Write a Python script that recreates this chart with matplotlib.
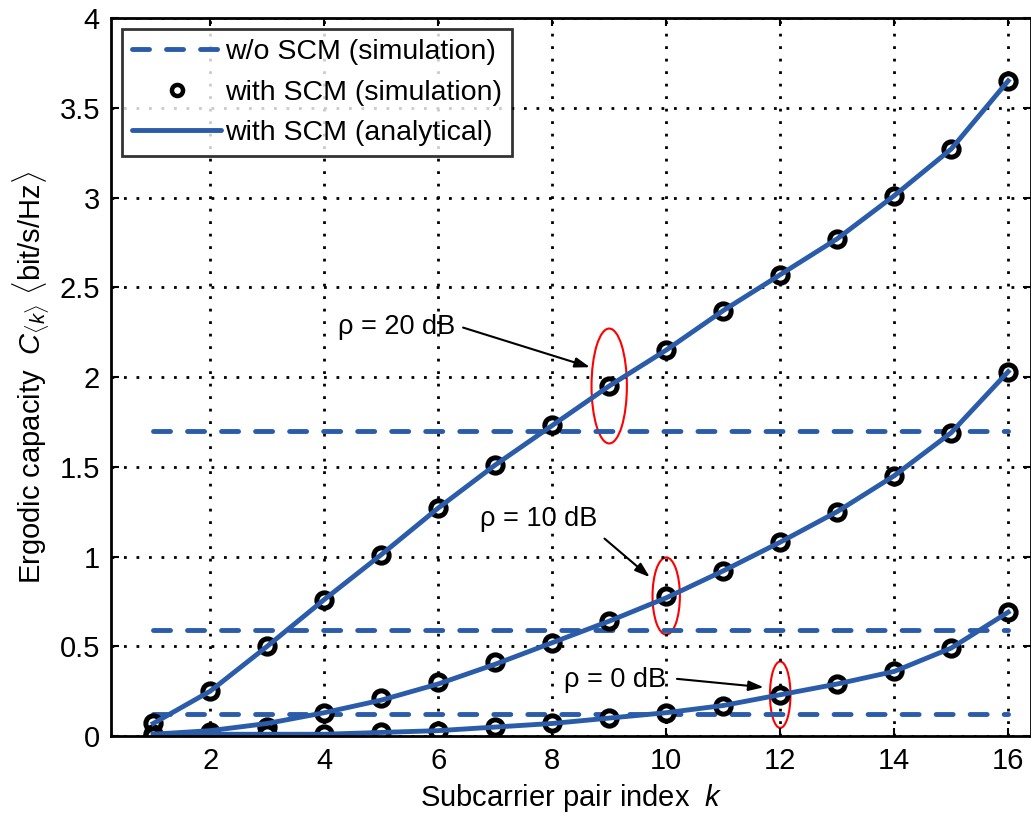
import numpy as np
import matplotlib
matplotlib.use("Agg")
from matplotlib import pyplot as plt
from matplotlib.patches import Ellipse

plt.rcParams['font.family'] = ['Liberation Sans', 'DejaVu Sans']
plt.rcParams['mathtext.fontset'] = 'custom'
plt.rcParams['mathtext.it'] = 'Liberation Sans:italic'
plt.rcParams['mathtext.rm'] = 'Liberation Sans'

# subcarrier pair index
k = np.arange(1, 17)

# capacity with SCM, one list per SNR (simulation markers)
sim_20db = [0.07, 0.25, 0.50, 0.76, 1.01, 1.27, 1.51, 1.73, 1.95, 2.15, 2.37, 2.57, 2.77, 3.01, 3.27, 3.65]
sim_10db = [0.01, 0.02, 0.05, 0.13, 0.21, 0.30, 0.41, 0.52, 0.64, 0.78, 0.92, 1.08, 1.25, 1.45, 1.69, 2.03]
sim_0db = [0.00, 0.00, 0.01, 0.01, 0.02, 0.03, 0.05, 0.07, 0.10, 0.13, 0.17, 0.23, 0.29, 0.36, 0.49, 0.69]

# analytical curves
ana_20db = [0.07, 0.25, 0.50, 0.76, 1.01, 1.27, 1.51, 1.73, 1.95, 2.15, 2.37, 2.57, 2.77, 3.01, 3.27, 3.65]
ana_10db = [0.01, 0.03, 0.07, 0.13, 0.20, 0.29, 0.40, 0.52, 0.64, 0.77, 0.92, 1.08, 1.25, 1.45, 1.69, 2.03]
ana_0db = [0.01, 0.01, 0.01, 0.01, 0.02, 0.03, 0.05, 0.07, 0.10, 0.13, 0.17, 0.23, 0.29, 0.36, 0.49, 0.69]

# capacity without SCM (flat)
no_scm = [1.70, 0.59, 0.12]

snr_labels = ['ρ = 20 dB', 'ρ = 10 dB', 'ρ = 0 dB']

blue = '#2a5caa'
dash = (0, (3.5, 3.5))

fig = plt.figure(figsize=(10.31, 8.18), dpi=100)
ax = fig.add_axes([0.1077, 0.1002, 0.8923, 0.8778])

for c in no_scm:
    ax.plot([k[0], k[-1]], [c, c], color=blue, lw=3.5, ls=dash, dash_capstyle='round')

for s in [sim_20db, sim_10db, sim_0db]:
    ax.plot(k, s, 'o', color='black', mfc='white', mec='black', ms=11, mew=3.6)

for a in [ana_20db, ana_10db, ana_0db]:
    ax.plot(k, a, color=blue, lw=3.5)

# legend handles
h1, = ax.plot([], [], color=blue, lw=3.5, ls=dash, dash_capstyle='round')
h2, = ax.plot([], [], 'o', color='black', mfc='white', mec='black', ms=8, mew=3.2)
h3, = ax.plot([], [], color=blue, lw=3.5, solid_capstyle='round')
leg = ax.legend([h1, h2, h3],
                ['w/o SCM (simulation)', 'with SCM (simulation)', 'with SCM (analytical)'],
                loc='upper left', fontsize=20.5, frameon=True, fancybox=False,
                edgecolor='black', handlelength=3.1, handletextpad=0.15,
                borderpad=0.35, labelspacing=0.5, borderaxespad=0.4)
leg.get_frame().set_linewidth(2)

# red ellipses around highlighted points
ax.add_patch(Ellipse((9, sim_20db[8]), 0.62, 0.64, fill=False, ec='red', lw=1.5))
ax.add_patch(Ellipse((10, sim_10db[9]), 0.48, 0.43, fill=False, ec='red', lw=1.5))
ax.add_patch(Ellipse((12, sim_0db[11]), 0.36, 0.37, fill=False, ec='red', lw=1.5))

arrow = dict(arrowstyle='-|>,head_length=0.9,head_width=0.3', color='black', lw=1.5)
ax.annotate('', xy=(8.71, 2.05), xytext=(6.39, 2.28), arrowprops=arrow)
ax.annotate('', xy=(9.75, 0.875), xytext=(8.88, 1.11), arrowprops=arrow)
ax.annotate('', xy=(11.76, 0.27), xytext=(10.14, 0.32), arrowprops=arrow)
ax.text(4.24, 2.28, snr_labels[0], fontsize=19.5, va='center', ha='left')
ax.text(6.73, 1.21, snr_labels[1], fontsize=19.5, va='center', ha='left')
ax.text(8.20, 0.31, snr_labels[2], fontsize=19.5, va='center', ha='left')

ax.set_xlim(0.26, 16.4)
ax.set_ylim(0, 4)
ax.set_xticks(np.arange(2, 17, 2))
ax.set_yticks(np.arange(0, 4.01, 0.5))
ax.set_yticklabels(['0', '0.5', '1', '1.5', '2', '2.5', '3', '3.5', '4'])
ax.grid(True, color='black', ls=(0, (1, 3.5)), lw=2)
ax.tick_params(direction='in', top=True, right=True, labelsize=21, length=6, width=1.5, pad=8)
for sp in ax.spines.values():
    sp.set_linewidth(2)

ax.set_xlabel(r'Subcarrier pair index  $k$', fontsize=21, labelpad=5)
ax.set_ylabel(r'Ergodic capacity  $C_{\langle k\rangle}$ $\langle$bit/s/Hz$\rangle$', fontsize=21, labelpad=6)

fig.savefig('out.png', dpi=100)
